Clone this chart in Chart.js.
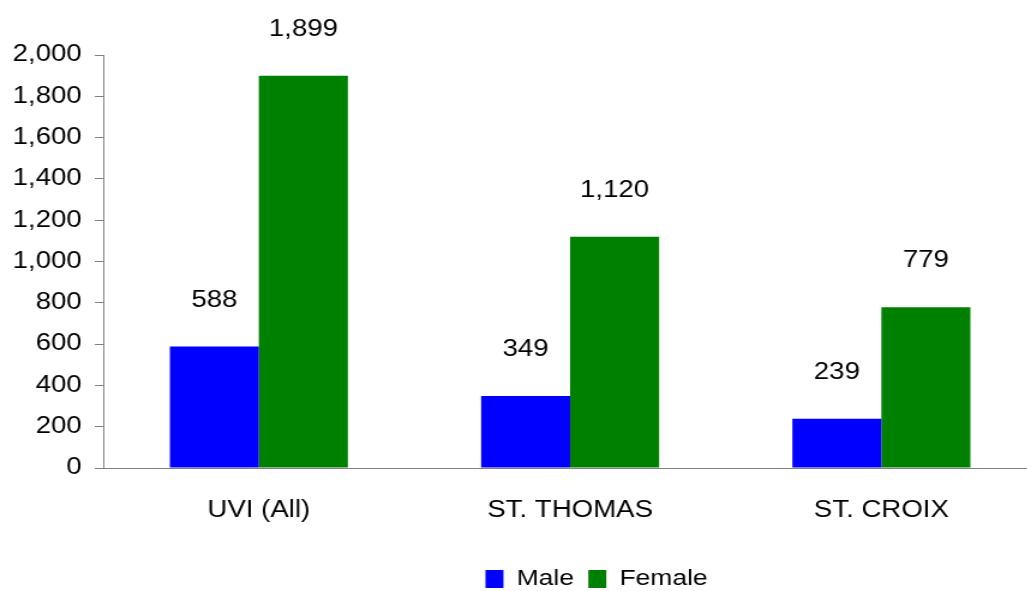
<!DOCTYPE html>
<html>
<head>
<meta charset="utf-8">
<script src="https://cdn.jsdelivr.net/npm/chart.js@4/dist/chart.umd.min.js"></script>
<style>
    html, body { margin: 0; padding: 0; background: #fff; overflow: hidden; }
    #wrap { width: 1027px; height: 591px; overflow: hidden; }
</style>
</head>
<body>
<div id="wrap"><canvas id="canvas" width="864" height="591" style="width:1037px;height:591px;"></canvas></div>
<script>
const categories = ["UVI (All)", "ST. THOMAS", "ST. CROIX"];
const maleValues = [588, 349, 239];
const femaleValues = [1899, 1120, 779];
const yTicks = [0, 200, 400, 600, 800, 1000, 1200, 1400, 1600, 1800, 2000];

const fontFamily = "'Liberation Sans', Arial, sans-serif";
const formatter = new Intl.NumberFormat("en-US");

// draws the value above each bar
const valueLabels = {
    id: "valueLabels",
    afterDatasetsDraw(chart) {
        const ctx = chart.ctx;
        ctx.save();
        ctx.font = "23px " + fontFamily;
        ctx.fillStyle = "#000";
        ctx.textAlign = "center";
        ctx.textBaseline = "middle";
        chart.data.datasets.forEach((dataset, i) => {
            chart.getDatasetMeta(i).data.forEach((bar, j) => {
                ctx.fillText(formatter.format(dataset.data[j]), bar.x, bar.y - 46);
            });
        });
        ctx.restore();
    },
};

// legend sits a bit right of the canvas centre
const legendShift = {
    id: "legendShift",
    afterLayout(chart) {
        chart.legend.left += 65;
        chart.legend.right += 65;
    },
};

const config = {
    type: "bar",
    data: {
        labels: categories,
        datasets: [
            {
                label: "Male",
                data: maleValues,
                backgroundColor: "#0000FF",
                borderWidth: 0,
            },
            {
                label: "Female",
                data: femaleValues,
                backgroundColor: "#008000",
                borderWidth: 0,
            },
        ],
    },
    options: {
        responsive: false,
        animation: false,
        devicePixelRatio: 1,
        layout: {
            padding: { top: 55, left: 0, right: 0, bottom: -9 },
        },
        datasets: {
            bar: {
                barPercentage: 1,
                categoryPercentage: 0.572,
            },
        },
        plugins: {
            tooltip: { enabled: false },
            legend: {
                position: "bottom",
                labels: {
                    color: "#000",
                    font: { family: fontFamily, size: 22 },
                    boxWidth: 15,
                    boxHeight: 18,
                    padding: 12,
                },
            },
        },
        scales: {
            x: {
                grid: { display: false },
                border: { display: true, color: "#808080", width: 1 },
                ticks: {
                    color: "#000",
                    font: { family: fontFamily, size: 23 },
                    padding: 21,
                    maxRotation: 0,
                },
                afterFit: (scale) => {
                    scale.height = 88;
                },
            },
            y: {
                min: 0,
                max: 2000,
                afterBuildTicks: (scale) => {
                    scale.ticks = yTicks.map((v) => ({ value: v }));
                },
                grid: {
                    drawOnChartArea: false,
                    drawTicks: true,
                    tickLength: 7,
                    color: "#808080",
                },
                border: { display: true, color: "#808080", width: 1 },
                ticks: {
                    color: "#000",
                    font: { family: fontFamily, size: 23 },
                    padding: 11,
                    callback: (value) => formatter.format(value),
                },
                afterFit: (scale) => {
                    scale.width = 86;
                },
            },
        },
    },
    plugins: [valueLabels, legendShift],
};

const chart = new Chart(document.getElementById("canvas"), config);
</script>
</body>
</html>
